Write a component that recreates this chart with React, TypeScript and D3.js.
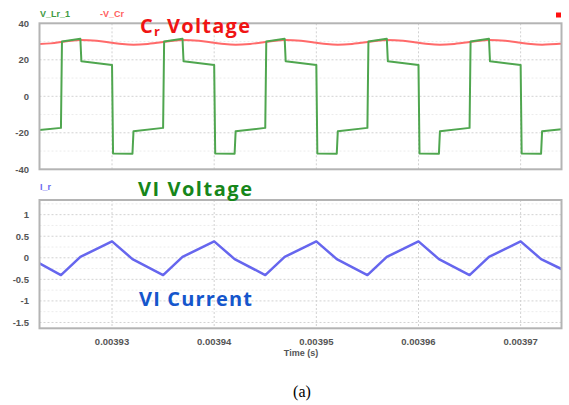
import React from "react";
import * as d3 from "d3";

// Time axis
const timeTicks = [0.00393, 0.00394, 0.00395, 0.00396, 0.00397];
const timeTickLabels = ["0.00393", "0.00394", "0.00395", "0.00396", "0.00397"];
const timeDomain = [0.0039229, 0.003974];

// Upper panel: voltages
const voltTicks = [40, 20, 0, -20, -40];
const voltTickLabels = ["40", "20", "0", "-20", "-40"];

// Lower panel: current
const currTicks = [1, 0.5, 0, -0.5, -1, -1.5];
const currTickLabels = ["1", "0.5", "0", "-0.5", "-1", "-1.5"];

// V_Lr_1 (inductor voltage)
const vLrTime = [
  0.0039229, 0.003925, 0.0039251, 0.0039269, 0.003927, 0.00393, 0.0039301, 0.003932, 0.0039321,
  0.003935, 0.0039351, 0.0039369, 0.003937, 0.00394, 0.0039401, 0.003942, 0.0039421,
  0.003945, 0.0039451, 0.0039469, 0.003947, 0.00395, 0.0039501, 0.003952, 0.0039521,
  0.003955, 0.0039551, 0.0039569, 0.003957, 0.00396, 0.0039601, 0.003962, 0.0039621,
  0.003965, 0.0039651, 0.0039669, 0.003967, 0.00397, 0.0039701, 0.003972, 0.0039721,
  0.003974,
];
const vLrValue = [
  -18.5, -17.3, 30.0, 31.5, 19.2, 17.2, -31.3, -31.5, -19.2,
  -17.3, 30.0, 31.5, 19.2, 17.2, -31.3, -31.5, -19.2,
  -17.3, 30.0, 31.5, 19.2, 17.2, -31.3, -31.5, -19.2,
  -17.3, 30.0, 31.5, 19.2, 17.2, -31.3, -31.5, -19.2,
  -17.3, 30.0, 31.5, 19.2, 17.2, -31.3, -31.5, -19.2,
  -18.0,
];

// -V_Cr (negated resonant capacitor voltage)
const vCrTime = [
  0.0039229, 0.003924, 0.003925, 0.003926, 0.0039269, 0.0039285, 0.00393, 0.003931, 0.0039321, 0.0039335,
  0.003935, 0.003936, 0.0039369, 0.0039385, 0.00394, 0.003941, 0.0039421, 0.0039435,
  0.003945, 0.003946, 0.0039469, 0.0039485, 0.00395, 0.003951, 0.0039521, 0.0039535,
  0.003955, 0.003956, 0.0039569, 0.0039585, 0.00396, 0.003961, 0.0039621, 0.0039635,
  0.003965, 0.003966, 0.0039669, 0.0039685, 0.00397, 0.003971, 0.0039721, 0.0039735,
  0.003974,
];
const vCrValue = [
  28.6, 29.0, 29.7, 30.5, 30.8, 30.4, 29.3, 28.6, 28.3, 28.7,
  29.7, 30.5, 30.8, 30.4, 29.3, 28.6, 28.3, 28.7,
  29.7, 30.5, 30.8, 30.4, 29.3, 28.6, 28.3, 28.7,
  29.7, 30.5, 30.8, 30.4, 29.3, 28.6, 28.3, 28.7,
  29.7, 30.5, 30.8, 30.4, 29.3, 28.6, 28.3, 28.7,
  28.8,
];

// I_r (resonant current)
const irTime = [
  0.0039229, 0.003925, 0.0039269, 0.00393, 0.003932,
  0.003935, 0.0039369, 0.00394, 0.003942,
  0.003945, 0.0039469, 0.00395, 0.003952,
  0.003955, 0.0039569, 0.00396, 0.003962,
  0.003965, 0.0039669, 0.00397, 0.003972,
  0.003974,
];
const irValue = [
  -0.13, -0.4, 0.02, 0.38, -0.03,
  -0.4, 0.02, 0.38, -0.03,
  -0.4, 0.02, 0.38, -0.03,
  -0.4, 0.02, 0.38, -0.03,
  -0.4, 0.02, 0.38, -0.03,
  -0.26,
];

const W = 569;
const H = 405;
const plotLeft = 39.5;
const plotRight = 561.5;
const top = { y0: 23.3, y1: 169.3 };
const bot = { y0: 200, y1: 328.3 };

const tickFont = "'Liberation Sans', Arial, sans-serif";
const annFont = "'Open Sans', 'Noto Sans', sans-serif";

export default function App() {
  const x = d3.scaleLinear().domain(timeDomain).range([plotLeft, plotRight]);
  const yV = d3.scaleLinear().domain([-40, 40]).range([top.y1, top.y0]);
  const yI = d3.scaleLinear().domain([-1.635, 1.34]).range([bot.y1, bot.y0]);

  const lineLr = d3
    .line<number>()
    .x((_, i) => x(vLrTime[i]))
    .y((d) => yV(d));
  const lineCr = d3
    .line<number>()
    .x((_, i) => x(vCrTime[i]))
    .y((d) => yV(d))
    .curve(d3.curveMonotoneX);
  const lineIr = d3
    .line<number>()
    .x((_, i) => x(irTime[i]))
    .y((d) => yI(d));

  const minorV = [30, 10, -10, -30];
  const minorI = [1.25, 0.75, 0.25, -0.25, -0.75, -1.25];

  const panel = (y0: number, y1: number, yScale: d3.ScaleLinear<number, number>, ticks: number[], minors: number[], clipId: string) => (
    <g>
      <defs>
        <clipPath id={clipId}>
          <rect x={plotLeft} y={y0} width={plotRight - plotLeft} height={y1 - y0} />
        </clipPath>
      </defs>
      <rect x={plotLeft} y={y0} width={plotRight - plotLeft} height={y1 - y0} fill="#fff" />
      {minors.map((v) => (
        <line key={"m" + v} x1={plotLeft} x2={plotRight} y1={yScale(v)} y2={yScale(v)} stroke="#ececec" strokeWidth={1} strokeDasharray="2,2" />
      ))}
      {ticks
        .filter((v) => yScale(v) > y0 + 2 && yScale(v) < y1 - 2)
        .map((v) => (
          <line key={"g" + v} x1={plotLeft} x2={plotRight} y1={yScale(v)} y2={yScale(v)} stroke="#d2d2d2" strokeWidth={1} strokeDasharray="2,2" />
        ))}
      {timeTicks.map((t) => (
        <line key={"v" + t} x1={x(t)} x2={x(t)} y1={y0} y2={y1} stroke="#d2d2d2" strokeWidth={1} strokeDasharray="2,2" />
      ))}
    </g>
  );

  return (
    <svg width={W} height={H} style={{ position: "absolute", left: 0, top: 0, background: "#fff" }}>
      {panel(top.y0, top.y1, yV, voltTicks, minorV, "clipTop")}
      {panel(bot.y0, bot.y1, yI, currTicks, minorI, "clipBot")}

      {/* traces */}
      <g clipPath="url(#clipTop)">
        <path d={lineCr(vCrValue) || ""} fill="none" stroke="#ff6a6a" strokeWidth={2} />
        <path d={lineLr(vLrValue) || ""} fill="none" stroke="#4fa64f" strokeWidth={2} strokeLinejoin="round" />
      </g>
      <g clipPath="url(#clipBot)">
        <path d={lineIr(irValue) || ""} fill="none" stroke="#6666ee" strokeWidth={2.5} strokeLinejoin="round" />
      </g>

      {/* frames */}
      <rect x={plotLeft} y={top.y0} width={plotRight - plotLeft} height={top.y1 - top.y0} fill="none" stroke="#b4b4b4" strokeWidth={2} />
      <rect x={plotLeft} y={bot.y0} width={plotRight - plotLeft} height={bot.y1 - bot.y0} fill="none" stroke="#b4b4b4" strokeWidth={2} />

      {/* y tick labels */}
      {voltTicks.map((v, i) => (
        <text key={"vl" + v} x={29} y={yV(v) + 3.5} textAnchor="end" fontFamily={tickFont} fontSize={9.5} fontWeight="bold" fill="#555">
          {voltTickLabels[i]}
        </text>
      ))}
      {currTicks.map((v, i) => (
        <text key={"cl" + v} x={29} y={yI(v) + 3.5} textAnchor="end" fontFamily={tickFont} fontSize={9.5} fontWeight="bold" fill="#555">
          {currTickLabels[i]}
        </text>
      ))}

      {/* x tick labels */}
      {timeTicks.map((t, i) => (
        <text key={"tl" + t} x={x(t)} y={345} textAnchor="middle" fontFamily={tickFont} fontSize={9.5} fontWeight="bold" fill="#555">
          {timeTickLabels[i]}
        </text>
      ))}
      <text x={301} y={356} textAnchor="middle" fontFamily={tickFont} fontSize={9} fontWeight="bold" fill="#555">
        Time (s)
      </text>

      {/* legends */}
      <text x={40} y={16.5} fontFamily={tickFont} fontSize={9} fontWeight="bold" fill="#3f9a3f">
        V_Lr_1
      </text>
      <text x={100} y={16.5} fontFamily={tickFont} fontSize={9} fontWeight="bold" fill="#ff6060">
        -V_Cr
      </text>
      <rect x={556} y={12.5} width={5} height={5} fill="#ff1010" />
      <text x={40} y={190} fontFamily={tickFont} fontSize={9} fontWeight="bold" fill="#6a6af0">
        I_r
      </text>

      {/* annotations */}
      <text x={140} y={33.3} fontFamily={annFont} fontSize={20} fontWeight="bold" fill="#f01414">
        C
      </text>
      <text x={154} y={36} fontFamily={annFont} fontSize={13} fontWeight="bold" fill="#f01414">
        r
      </text>
      <text x={167} y={33.3} fontFamily={annFont} fontSize={20} fontWeight="bold" fill="#f01414" textLength={83} lengthAdjust="spacing">
        Voltage
      </text>
      <text x={138} y={196} fontFamily={annFont} fontSize={20} fontWeight="bold" fill="#16861a" textLength={114} lengthAdjust="spacing">
        VI Voltage
      </text>
      <text x={139} y={306} fontFamily={annFont} fontSize={20} fontWeight="bold" fill="#1556cc" textLength={113} lengthAdjust="spacing">
        VI Current
      </text>

      {/* caption */}
      <text x={302} y={397} textAnchor="middle" fontFamily="'Liberation Serif', 'Times New Roman', serif" fontSize={16} fill="#000">
        (a)
      </text>
    </svg>
  );
}
